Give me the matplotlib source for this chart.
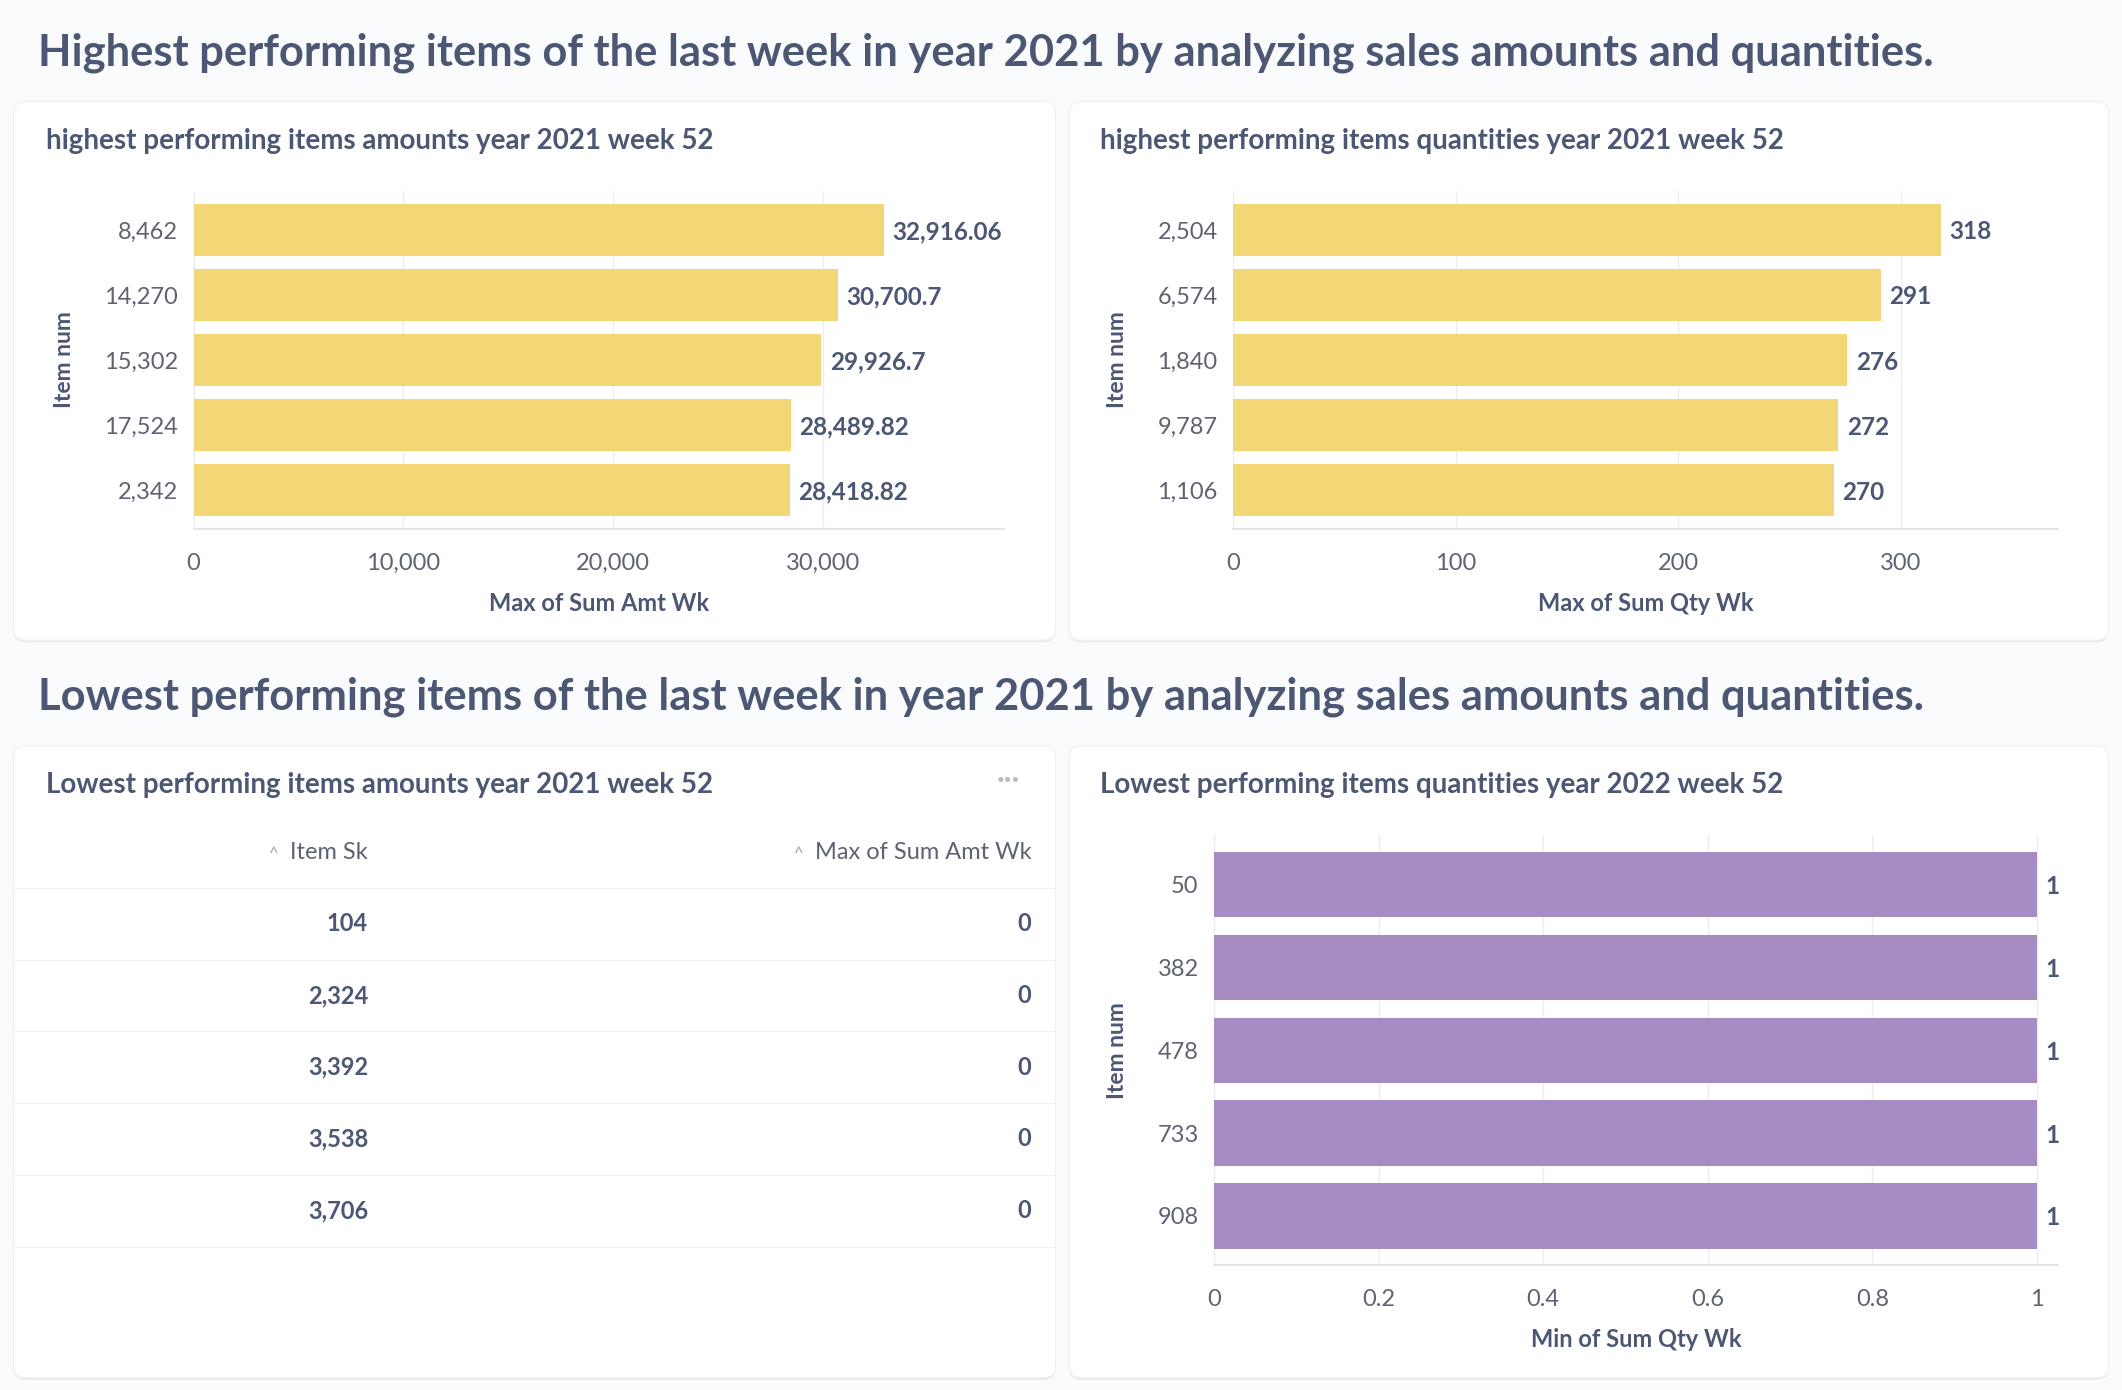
import matplotlib.pyplot as plt
from matplotlib.patches import FancyBboxPatch

plt.rcParams['font.family'] = ['Lato', 'DejaVu Sans']

# data
amt_items = ['8,462', '14,270', '15,302', '17,524', '2,342']
amt_values = [32916.06, 30700.7, 29926.7, 28489.82, 28418.82]
amt_labels = ['32,916.06', '30,700.7', '29,926.7', '28,489.82', '28,418.82']

qty_items = ['2,504', '6,574', '1,840', '9,787', '1,106']
qty_values = [318, 291, 276, 272, 270]

low_amt_items = ['104', '2,324', '3,392', '3,538', '3,706']
low_amt_values = [0, 0, 0, 0, 0]

low_qty_items = ['50', '382', '478', '733', '908']
low_qty_values = [1, 1, 1, 1, 1]

W, H = 1568, 1027
dark = '#4C5773'
grey = '#5E6372'
yellow = '#F3D675'
purple = '#A68CC2'
gridc = '#ECEDF0'

fig = plt.figure(figsize=(21.22, 13.90), dpi=100)
fig.patch.set_facecolor('#F9FBFC')

# background layer in screen-like coords
bg = fig.add_axes([0, 0, 1, 1])
bg.set_xlim(0, W)
bg.set_ylim(H, 0)
bg.axis('off')

for x0, y0, w, h in [(10, 75, 770, 398), (790, 75, 768, 398),
                     (10, 551, 770, 467), (790, 551, 768, 467)]:
    bg.add_patch(FancyBboxPatch((x0, y0 + 1.5), w, h, boxstyle='round,pad=0,rounding_size=9',
                                fc='#E6E9EE', ec='none', zorder=1))
    bg.add_patch(FancyBboxPatch((x0, y0), w, h, boxstyle='round,pad=0,rounding_size=9',
                                fc='white', ec='#EEF0F3', lw=0.8, zorder=2))

bg.text(28, 39, 'Highest performing items of the last week in year 2021 by analyzing sales amounts and quantities.',
        fontsize=31.3, fontweight='bold', color=dark, va='center', ha='left')
bg.text(28, 515, 'Lowest performing items of the last week in year 2021 by analyzing sales amounts and quantities.',
        fontsize=31.3, fontweight='bold', color=dark, va='center', ha='left')

bg.text(34, 104, 'highest performing items amounts year 2021 week 52', fontsize=20,
        fontweight='bold', color=dark, va='center')
bg.text(813, 104, 'highest performing items quantities year 2021 week 52', fontsize=20,
        fontweight='bold', color=dark, va='center')
bg.text(34, 580, 'Lowest performing items amounts year 2021 week 52', fontsize=20,
        fontweight='bold', color=dark, va='center')
bg.text(813, 580, 'Lowest performing items quantities year 2022 week 52', fontsize=20,
        fontweight='bold', color=dark, va='center')
bg.text(745, 576, '···', fontsize=20, fontweight='bold', color='#B8BCC6', ha='center', va='center')


def place(left, top, right, bottom):
    return fig.add_axes([left / W, 1 - bottom / H, (right - left) / W, (bottom - top) / H])


def bar_chart(ax, items, values, labels, color, xmax, ticks, ticklabels, xlabel):
    pos = list(range(len(items)))
    ax.barh(pos, values, height=0.79, color=color, zorder=2)
    ax.set_ylim(len(items) - 1 + 0.6, -0.6)
    ax.set_xlim(0, xmax)
    ax.set_yticks(pos)
    ax.set_yticklabels(items)
    ax.set_xticks(ticks)
    ax.set_xticklabels(ticklabels)
    ax.tick_params(length=0, labelsize=17, colors=grey)
    ax.tick_params(axis='x', pad=17)
    ax.tick_params(axis='y', pad=11)
    ax.grid(axis='x', color=gridc, lw=1, zorder=0)
    for s in ['top', 'right', 'left']:
        ax.spines[s].set_visible(False)
    ax.spines['bottom'].set_color('#E3E5E9')
    ax.spines['bottom'].set_linewidth(1.5)
    ax.set_facecolor('none')
    ax.set_xlabel(xlabel, fontsize=17, fontweight='bold', color=dark, labelpad=13)
    ax.set_ylabel('Item num', fontsize=16.5, fontweight='bold', color=dark, labelpad=21)
    for p, v, t in zip(pos, values, labels):
        ax.annotate(t, (v, p), xytext=(6, 0), textcoords='offset points', va='center_baseline',
                    ha='left', fontsize=17.5, fontweight='bold', color=dark, zorder=3)


ax1 = place(143, 141, 742, 391)
bar_chart(ax1, amt_items, amt_values, amt_labels, yellow, 38640,
          [0, 10000, 20000, 30000], ['0', '10,000', '20,000', '30,000'],
          'Max of Sum Amt Wk')

ax2 = place(911, 141, 1521, 391)
bar_chart(ax2, qty_items, qty_values, [str(v) for v in qty_values], yellow, 370.8,
          [0, 100, 200, 300], ['0', '100', '200', '300'],
          'Max of Sum Qty Wk')

ax4 = place(897, 617, 1521, 935)
bar_chart(ax4, low_qty_items, low_qty_values, [str(v) for v in low_qty_values], purple, 1.026,
          [0, 0.2, 0.4, 0.6, 0.8, 1], ['0', '0.2', '0.4', '0.6', '0.8', '1'],
          'Min of Sum Qty Wk')

# table
bg.text(272, 630, 'Item Sk', fontsize=17, color=grey, ha='right', va='center', zorder=3)
bg.text(206, 631, '^', fontsize=12, color='#A0A4AE', ha='right', va='center', zorder=3)
bg.text(762, 630, 'Max of Sum Amt Wk', fontsize=17, color=grey, ha='right', va='center', zorder=3)
bg.text(594, 631, '^', fontsize=12, color='#A0A4AE', ha='right', va='center', zorder=3)
row_y0, row_h = 656, 53
for i, (item, val) in enumerate(zip(low_amt_items, low_amt_values)):
    y = row_y0 + row_h * i
    bg.plot([11, 779], [y, y], color='#F0F1F4', lw=1, zorder=3)
    bg.text(272, y + row_h / 2, item, fontsize=17, fontweight='bold', color=dark,
            ha='right', va='center', zorder=3)
    bg.text(762, y + row_h / 2, f'{val:,}', fontsize=17, fontweight='bold', color=dark,
            ha='right', va='center', zorder=3)
bg.plot([11, 779], [row_y0 + row_h * 5] * 2, color='#F0F1F4', lw=1, zorder=3)

plt.savefig('out.png', dpi=100, facecolor=fig.get_facecolor())
